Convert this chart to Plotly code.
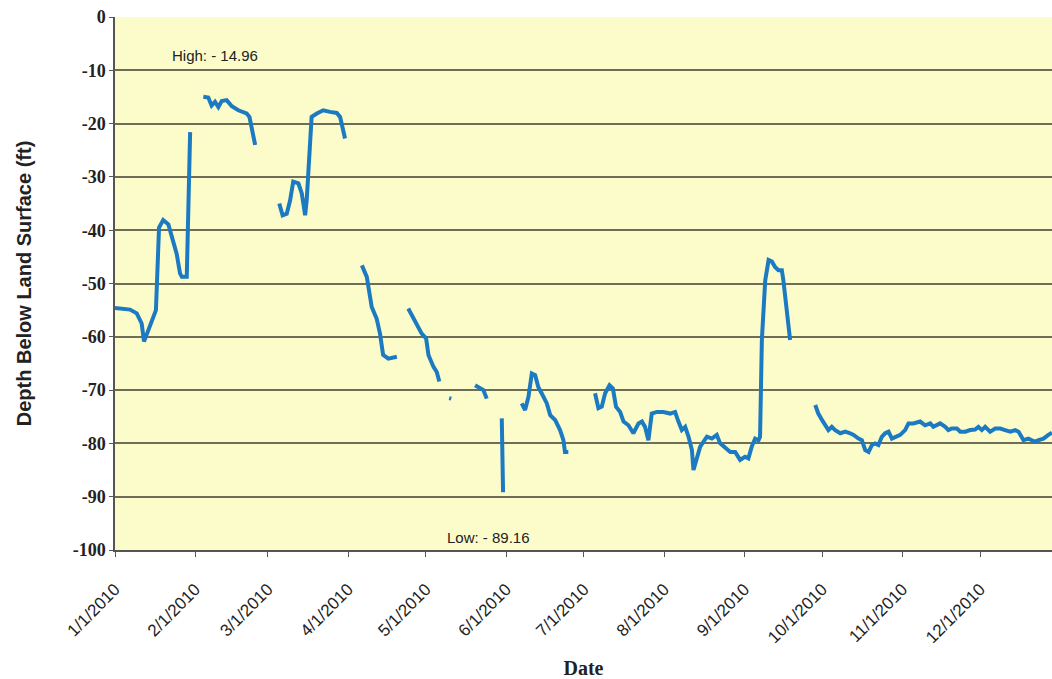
import pandas as pd
import plotly.graph_objects as go

# Days after 1 Jan 2010 (None separates gaps in the record)
days = [
    0, 5.8, 8.4, 10.3, 11.2, 12.9, 14.8, 15.8, 17.0, 18.0, 18.6, 20.6, 22.5, 23.8, 25.1, 25.8, 27.7, 29.0,
    None,
    34.1, 36.0, 37.3, 38.6, 39.9, 41.2, 43.1, 45.1, 47.6, 50.8, 51.9, 52.8, 54.1,
    None,
    63.4, 64.7, 66.3, 67.6, 68.8, 70.8, 72.1, 73.4, 74.0, 75.0, 75.9, 77.9, 80.4, 83.0, 85.6, 86.9, 88.1, 88.8,
    None,
    95.3, 97.2, 99.1, 101.0, 102.3, 103.5, 105.5, 108.8,
    None,
    113.2, 115.8, 118.4, 120.1, 121.0, 122.9, 124.2, 125.2,
    None,
    129.0, 129.8,
    None,
    139.0, 140.9, 142.2, 143.5,
    None,
    149.3, 149.8,
    None,
    157.0, 158.3, 159.6, 160.9, 162.2, 163.4, 164.7, 166.7, 168.0, 169.9, 171.8, 173.1, 173.7, 175.0,
    None,
    185.3, 186.6, 187.9, 189.2, 190.9, 192.2, 193.4, 195.0, 196.3, 198.2, 200.1, 202.1, 203.4, 204.6, 205.9,
    207.2, 209.2, 211.7, 214.3, 216.2, 217.5, 218.8, 220.1, 221.4, 222.7, 223.3, 225.9, 228.5, 230.4, 232.3,
    233.6, 235.5, 237.5, 239.4, 241.3, 243.2, 244.5, 245.8, 247.1, 248.4, 249.0, 249.7, 251.0, 252.3, 253.6,
    254.8, 256.1, 257.4, 258.0, 259.3, 260.6,
    None,
    270.3, 271.5, 272.9, 274.1, 275.4, 276.7, 278.0, 280.0, 281.9, 283.8, 285.1, 287.0, 288.3, 289.6, 290.9,
    292.2, 293.4, 294.7, 296.0, 297.3, 298.6, 299.9, 301.2, 303.1, 305.0, 306.3, 308.2, 310.8, 312.7, 314.7,
    315.9, 317.3, 318.5, 320.5, 321.7, 323.0, 325.0, 326.3, 328.2, 330.1, 332.0, 333.3, 334.6, 335.9, 337.8,
    339.8, 341.7, 343.6, 345.6, 347.5, 348.8, 350.7, 352.6, 353.9, 355.2, 356.5, 358.4, 360.3, 361.7,
]

depth_ft = [
    -54.6, -54.9, -55.6, -57.5, -60.9, -58.7, -56.3, -55.0, -39.5, -38.4, -38.1, -38.9, -41.9, -44.4, -48.1, -48.75, -48.75, -21.6,
    None,
    -14.96, -15.1, -16.6, -15.9, -16.9, -15.75, -15.6, -16.75, -17.5, -18.1, -18.75, -21.2, -24.0,
    None,
    -35.0, -37.2, -36.9, -34.4, -30.9, -31.2, -33.1, -37.2, -34.4, -25.0, -18.75, -18.1, -17.5, -17.8, -18.0, -18.75, -21.9, -22.8,
    None,
    -46.6, -48.75, -54.4, -56.6, -59.4, -63.4, -64.1, -63.75,
    None,
    -54.7, -57.2, -59.4, -60.3, -63.4, -65.6, -66.6, -68.4,
    None,
    -71.5, -71.6,
    None,
    -69.1, -69.7, -70.0, -71.6,
    None,
    -75.3, -89.16,
    None,
    -72.5, -73.75, -71.25, -66.9, -67.2, -69.4, -70.6, -72.5, -74.7, -75.6, -77.5, -79.4, -81.6, -81.6,
    None,
    -70.6, -73.4, -73.1, -70.6, -69.1, -69.7, -73.1, -74.1, -75.9, -76.6, -78.1, -76.25, -75.9, -76.9, -79.4,
    -74.4, -74.1, -74.1, -74.4, -74.1, -75.9, -77.5, -76.9, -78.75, -81.25, -85.0, -80.6, -78.75, -79.1, -78.4,
    -80.0, -80.9, -81.6, -81.6, -83.1, -82.5, -82.8, -80.6, -79.1, -79.4, -78.75, -60.6, -49.4, -45.6, -45.9,
    -46.9, -47.5, -47.5, -49.4, -55.0, -60.6,
    None,
    -72.8, -74.4, -75.6, -76.6, -77.5, -76.9, -77.5, -78.1, -77.8, -78.1, -78.4, -79.1, -79.4, -81.25, -81.6,
    -80.3, -80.0, -80.3, -78.75, -78.1, -77.8, -79.1, -78.75, -78.4, -77.5, -76.25, -76.25, -75.9, -76.6, -76.25,
    -76.9, -76.6, -76.25, -76.9, -77.5, -77.2, -77.2, -77.8, -77.8, -77.5, -77.4, -76.9, -77.5, -76.9, -77.8,
    -77.2, -77.2, -77.5, -77.8, -77.5, -77.8, -79.4, -79.1, -79.4, -79.7, -79.4, -79.1, -78.4, -78.0,
]

tick_dates = ["2010-01-01", "2010-02-01", "2010-03-01", "2010-04-01", "2010-05-01", "2010-06-01",
              "2010-07-01", "2010-08-01", "2010-09-01", "2010-10-01", "2010-11-01", "2010-12-01"]
tick_labels = ["1/1/2010", "2/1/2010", "3/1/2010", "4/1/2010", "5/1/2010", "6/1/2010",
               "7/1/2010", "8/1/2010", "9/1/2010", "10/1/2010", "11/1/2010", "12/1/2010"]
y_ticks = [0, -10, -20, -30, -40, -50, -60, -70, -80, -90, -100]
y_tick_labels = ["0", "-10", "-20", "-30", "-40", "-50", "-60", "-70", "-80", "-90", "-100"]

base = pd.Timestamp("2010-01-01")
x_dates = [None if d is None else base + pd.Timedelta(days=d) for d in days]

fig = go.Figure()
fig.add_trace(go.Scatter(
    x=x_dates, y=depth_ft, mode="lines",
    line=dict(color="#1b7ac2", width=4),
    connectgaps=False, showlegend=False,
))

fig.add_annotation(x=base + pd.Timedelta(days=38.6), y=-7.2, text="High: - 14.96", showarrow=False,
                   font=dict(family="Arial, Liberation Sans", size=15, color="#222"))
fig.add_annotation(x=base + pd.Timedelta(days=144), y=-97.6, text="Low: - 89.16", showarrow=False,
                   font=dict(family="Arial, Liberation Sans", size=15, color="#222"))

fig.update_layout(
    width=1052, height=679,
    margin=dict(l=115, r=0, t=17, b=129, autoexpand=False),
    paper_bgcolor="white",
    plot_bgcolor="#fcfccb",
    xaxis=dict(
        range=[base, base + pd.Timedelta(days=361.7)],
        tickvals=tick_dates, ticktext=tick_labels,
        tickangle=-45, ticks="outside", ticklen=5, tickcolor="#555",
        ticklabelstandoff=16, automargin=False,
        showgrid=False, showline=True, linecolor="#555", linewidth=1.5,
        tickfont=dict(family="Arial, Liberation Sans", size=17, color="#222"),
        title=dict(text="<b>Date</b>", font=dict(family="Times New Roman, Liberation Serif", size=20, color="#222"),
                   standoff=36),
        zeroline=False,
    ),
    yaxis=dict(
        range=[-100, 0], tickvals=y_ticks, ticktext=y_tick_labels,
        ticks="outside", ticklen=4, tickcolor="#555", automargin=False,
        showgrid=True, gridcolor="#6e6e58", gridwidth=1.5,
        showline=True, linecolor="#555", linewidth=1.5,
        tickfont=dict(family="Times New Roman, Liberation Serif", size=18, color="#222", weight="bold"),
        title=dict(text="<b>Depth Below Land Surface (ft)</b>",
                   font=dict(family="Arial, Liberation Sans", size=20, color="#222"), standoff=36),
        zeroline=False,
    ),
)

fig.write_html(
    "out.html",
    config={"displayModeBar": False},
    post_script="document.documentElement.style.overflow='hidden';"
                "document.body.style.margin='0';document.body.style.overflow='hidden';",
)
